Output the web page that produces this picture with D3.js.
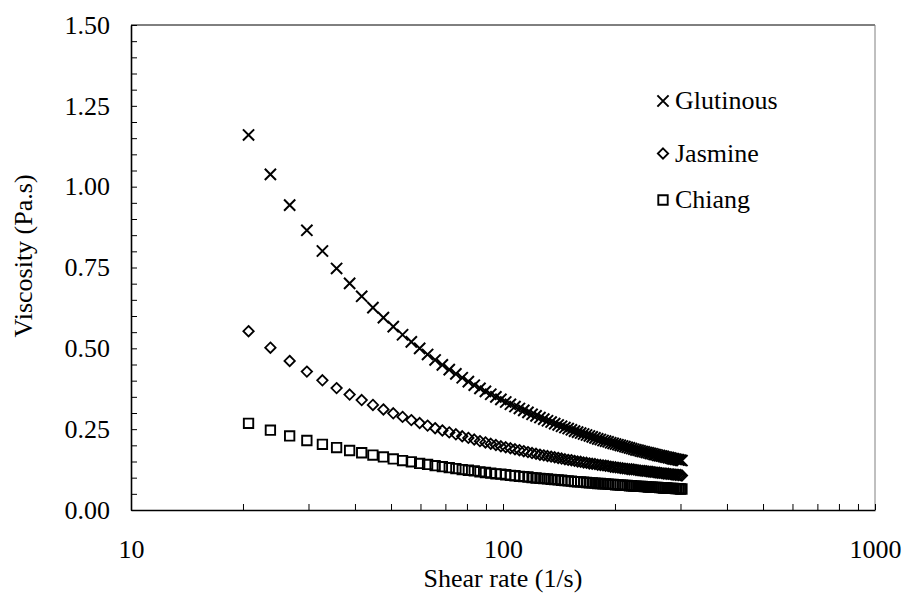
<!DOCTYPE html>
<html>
<head>
<meta charset="utf-8">
<script src="https://cdn.jsdelivr.net/npm/d3@7"></script>
<style>
  html, body { margin: 0; padding: 0; background: #fff; }
  svg { display: block; }
  svg text { font-family: "Liberation Serif", "Times New Roman", Times, serif !important; fill: #000; }
</style>
</head>
<body>
<svg id="chart" width="905" height="597"></svg>
<script>
// Shear rate (1/s) at which each viscosity reading was taken
const shearRate = [
  20.7, 23.7, 26.7, 29.7, 32.7, 35.7, 38.7, 41.7, 44.7, 47.7,
  50.7, 53.7, 56.7, 59.7, 62.7, 65.7, 68.7, 71.7, 74.7, 77.7,
  80.7, 83.7, 86.7, 89.7, 92.7, 95.7, 98.7, 101.7, 104.7, 107.7,
  110.7, 113.7, 116.7, 119.7, 122.7, 125.7, 128.7, 131.7, 134.7, 137.7,
  140.7, 143.7, 146.7, 149.7, 152.7, 155.7, 158.7, 161.7, 164.7, 167.7,
  170.7, 173.7, 176.7, 179.7, 182.7, 185.7, 188.7, 191.7, 194.7, 197.7,
  200.7, 203.7, 206.7, 209.7, 212.7, 215.7, 218.7, 221.7, 224.7, 227.7,
  230.7, 233.7, 236.7, 239.7, 242.7, 245.7, 248.7, 251.7, 254.7, 257.7,
  260.7, 263.7, 266.7, 269.7, 272.7, 275.7, 278.7, 281.7, 284.7, 287.7,
  290.7, 293.7, 296.7, 299.7, 302.7
];

// Viscosity (Pa.s) of each rice flour paste
const glutinous = [
  1.160, 1.038, 0.943, 0.865, 0.801, 0.747, 0.701, 0.661, 0.626, 0.595,
  0.567, 0.542, 0.520, 0.500, 0.481, 0.464, 0.449, 0.434, 0.421, 0.409,
  0.397, 0.386, 0.376, 0.367, 0.358, 0.350, 0.342, 0.334, 0.327, 0.320,
  0.314, 0.308, 0.302, 0.296, 0.291, 0.286, 0.281, 0.276, 0.272, 0.267,
  0.263, 0.259, 0.255, 0.252, 0.248, 0.244, 0.241, 0.238, 0.235, 0.232,
  0.229, 0.226, 0.223, 0.220, 0.218, 0.215, 0.213, 0.211, 0.208, 0.206,
  0.204, 0.202, 0.200, 0.198, 0.196, 0.194, 0.192, 0.190, 0.188, 0.186,
  0.185, 0.183, 0.181, 0.180, 0.178, 0.177, 0.175, 0.174, 0.172, 0.171,
  0.169, 0.168, 0.167, 0.166, 0.164, 0.163, 0.162, 0.161, 0.159, 0.158,
  0.157, 0.156, 0.155, 0.154, 0.153
];
const jasmine = [
  0.553, 0.502, 0.461, 0.428, 0.401, 0.377, 0.357, 0.340, 0.325, 0.311,
  0.299, 0.288, 0.278, 0.269, 0.261, 0.253, 0.246, 0.240, 0.234, 0.228,
  0.223, 0.218, 0.213, 0.209, 0.205, 0.201, 0.197, 0.194, 0.191, 0.188,
  0.185, 0.182, 0.179, 0.176, 0.174, 0.171, 0.169, 0.167, 0.165, 0.163,
  0.161, 0.159, 0.157, 0.155, 0.154, 0.152, 0.150, 0.149, 0.147, 0.146,
  0.144, 0.143, 0.142, 0.140, 0.139, 0.138, 0.137, 0.136, 0.134, 0.133,
  0.132, 0.131, 0.130, 0.129, 0.128, 0.127, 0.126, 0.126, 0.125, 0.124,
  0.123, 0.122, 0.121, 0.121, 0.120, 0.119, 0.118, 0.118, 0.117, 0.116,
  0.115, 0.115, 0.114, 0.113, 0.113, 0.112, 0.112, 0.111, 0.110, 0.110,
  0.109, 0.109, 0.108, 0.108, 0.107
];
const chiang = [
  0.268, 0.247, 0.229, 0.215, 0.203, 0.193, 0.184, 0.177, 0.170, 0.164,
  0.158, 0.153, 0.149, 0.144, 0.141, 0.137, 0.134, 0.131, 0.128, 0.125,
  0.123, 0.121, 0.118, 0.116, 0.114, 0.112, 0.111, 0.109, 0.107, 0.106,
  0.104, 0.103, 0.102, 0.100, 0.099, 0.098, 0.097, 0.096, 0.095, 0.094,
  0.093, 0.092, 0.091, 0.090, 0.089, 0.088, 0.087, 0.087, 0.086, 0.085,
  0.084, 0.084, 0.083, 0.082, 0.082, 0.081, 0.081, 0.080, 0.079, 0.079,
  0.078, 0.078, 0.077, 0.077, 0.076, 0.076, 0.075, 0.075, 0.074, 0.074,
  0.073, 0.073, 0.073, 0.072, 0.072, 0.071, 0.071, 0.071, 0.070, 0.070,
  0.070, 0.069, 0.069, 0.068, 0.068, 0.068, 0.067, 0.067, 0.067, 0.067,
  0.066, 0.066, 0.066, 0.065, 0.065
];

const seriesNames = ["Glutinous", "Jasmine", "Chiang"];
const yMajorTicks = [0, 0.25, 0.5, 0.75, 1.0, 1.25, 1.5];
const yMinorTicks = [0.05, 0.1, 0.15, 0.2, 0.3, 0.35, 0.4, 0.45, 0.55, 0.6, 0.65, 0.7,
                     0.8, 0.85, 0.9, 0.95, 1.05, 1.1, 1.15, 1.2, 1.3, 1.35, 1.4, 1.45];
const xMajorTicks = [10, 100, 1000];
const xMinorTicks = [20, 30, 40, 50, 60, 70, 80, 90, 200, 300, 400, 500, 600, 700, 800, 900];
const xTitle = "Shear rate (1/s)";
const yTitle = "Viscosity (Pa.s)";

// ---- layout ----
const plot = { left: 131, right: 875, top: 25, bottom: 510 };
const fontSize = 26;
const serif = '"Liberation Serif", "Times New Roman", Times, serif';

const svg = d3.select("#chart");

const x = d3.scaleLog().domain([10, 1000]).range([plot.left, plot.right]);
const y = d3.scaleLinear().domain([0, 1.5]).range([plot.bottom, plot.top]);

// ---- marker shapes ----
const crossPath = r => `M${-r},${-r}L${r},${r}M${-r},${r}L${r},${-r}`;
const diamondPath = r => `M0,${-r}L${r},0L0,${r}L${-r},0Z`;
const squarePath = r => `M${-r},${-r}H${r}V${r}H${-r}Z`;

const markers = [
  { path: crossPath(5.6), width: 2.0 },
  { path: diamondPath(5.2), width: 1.8 },
  { path: squarePath(4.7), width: 1.9 }
];
const seriesValues = [glutinous, jasmine, chiang];

// ---- plot frame (top and right edges) ----
svg.append("line")
  .attr("x1", plot.left).attr("x2", plot.right)
  .attr("y1", plot.top).attr("y2", plot.top)
  .attr("stroke", "#000").attr("stroke-width", 1);
svg.append("line")
  .attr("x1", plot.right).attr("x2", plot.right)
  .attr("y1", plot.top).attr("y2", plot.bottom)
  .attr("stroke", "#808080").attr("stroke-width", 1);

// ---- axes ----
function styleAxis(g) {
  g.attr("font-family", serif).attr("font-size", fontSize);
  g.select(".domain").attr("stroke", "#000").attr("stroke-width", 1.6);
  g.selectAll(".tick line").attr("stroke", "#000").attr("stroke-width", 1);
  g.selectAll("text")
    .style("font-family", serif)
    .style("font-size", fontSize + "px")
    .attr("fill", "#000");
}

// y minor ticks
svg.append("g")
  .attr("transform", `translate(${plot.left},0)`)
  .call(d3.axisLeft(y).tickValues(yMinorTicks).tickFormat("").tickSize(-6).tickSizeOuter(0))
  .call(g => g.select(".domain").remove())
  .call(styleAxis);

// y major ticks
svg.append("g")
  .attr("transform", `translate(${plot.left},0)`)
  .call(d3.axisLeft(y).tickValues(yMajorTicks).tickFormat(d3.format(".2f"))
        .tickSize(-6).tickSizeOuter(0).tickPadding(21))
  .call(styleAxis);

// x minor ticks
svg.append("g")
  .attr("transform", `translate(0,${plot.bottom})`)
  .call(d3.axisBottom(x).tickValues(xMinorTicks).tickFormat("").tickSize(-6).tickSizeOuter(0))
  .call(g => g.select(".domain").remove())
  .call(styleAxis);

// x major ticks
svg.append("g")
  .attr("transform", `translate(0,${plot.bottom})`)
  .call(d3.axisBottom(x).tickValues(xMajorTicks).tickFormat(d3.format("d"))
        .tickSize(-6).tickSizeOuter(0).tickPadding(30))
  .call(styleAxis);

// axis titles
svg.append("text")
  .attr("x", (plot.left + plot.right) / 2)
  .attr("y", 587)
  .attr("text-anchor", "middle")
  .style("font-family", serif)
  .style("font-size", fontSize + "px")
  .text(xTitle);

svg.append("text")
  .attr("transform", "translate(32,256) rotate(-90)")
  .attr("text-anchor", "middle")
  .style("font-family", serif)
  .style("font-size", fontSize + "px")
  .text(yTitle);

// ---- data markers ----
seriesValues.forEach((vals, i) => {
  svg.append("g")
    .attr("class", "series")
    .selectAll("path")
    .data(shearRate.map((s, j) => [s, vals[j]]))
    .join("path")
    .attr("transform", d => `translate(${x(d[0])},${y(d[1])})`)
    .attr("d", markers[i].path)
    .attr("fill", "none")
    .attr("stroke", "#000")
    .attr("stroke-width", markers[i].width);
});

// ---- legend ----
const legendBaselines = [109, 161.5, 208];
const legend = svg.append("g").attr("class", "legend");
seriesNames.forEach((name, i) => {
  legend.append("path")
    .attr("transform", `translate(663,${legendBaselines[i] - 8})`)
    .attr("d", markers[i].path)
    .attr("fill", "none")
    .attr("stroke", "#000")
    .attr("stroke-width", markers[i].width);
  legend.append("text")
    .attr("x", 675)
    .attr("y", legendBaselines[i])
    .style("font-family", serif)
    .style("font-size", fontSize + "px")
    .text(name);
});
</script>
</body>
</html>
